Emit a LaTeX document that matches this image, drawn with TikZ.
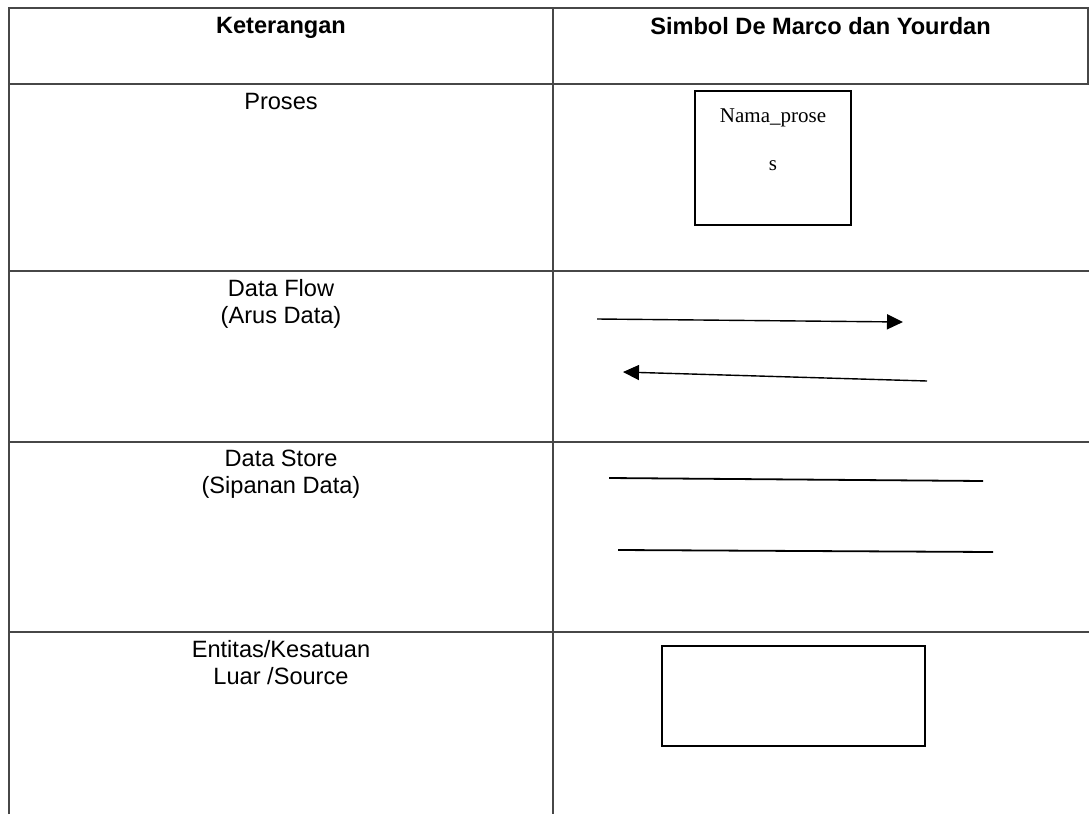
\documentclass[tikz,border=0pt]{standalone}
\usepackage{fontspec}
\setmainfont{Liberation Sans}
\newfontfamily\serifface{Liberation Serif}
\usetikzlibrary{arrows.meta}

\begin{document}
\begin{tikzpicture}[x=1pt,y=-1pt,
  rule/.style={draw=black!72, line width=1.6pt},
  celltext/.style={font=\fontsize{23.6}{27}\selectfont, align=center, anchor=north, inner sep=0pt},
  headtext/.style={celltext, font=\bfseries\fontsize{23.6}{27}\selectfont},
  symbox/.style={draw=black, line width=2.8pt, inner sep=0pt},
  flow/.style={draw=black, line width=1.4pt, -{Triangle[length=16pt,width=15pt]}},
  store/.style={draw=black, line width=1.8pt}]

\useasboundingbox (0,0) rectangle (1089,814);

% table grid
\coordinate (tl) at (9,8);
\coordinate (tr) at (1088,8);
\draw[rule] (9,814) -- (tl) -- (1089,8);
\draw[rule] (tr) -- (1088,84);
\draw[rule] (553,8) -- (553,814);
\draw[rule] (9,84) -- (1089,84);
\draw[rule] (9,271) -- (1089,271);
\draw[rule] (9,442) -- (1089,442);
\draw[rule] (9,632) -- (1089,632);

% header
\node[headtext] (h1) at (281,17) {Keterangan};
\node[headtext] (h2) at (820.5,17) {Simbol De Marco dan Yourdan};

% left column labels
\node[celltext] (l1) at (281,93) {Proses};
\node[celltext] (l2) at (281,279) {Data Flow\\(Arus Data)};
\node[celltext] (l3) at (281,450) {Data Store\\(Sipanan Data)};
\node[celltext] (l4) at (281,640) {Entitas/Kesatuan\\Luar /Source};

% process symbol
\node[symbox, minimum width=156pt, minimum height=134pt] (proc) at (773,158) {};
\node[font=\serifface\fontsize{21}{48}\selectfont, align=center, anchor=north, inner sep=0pt]
  (proctext) at (773,109) {Nama\_prose\\s};

% data flow symbols
\coordinate (f1a) at (597,319);
\coordinate (f1b) at (903,322);
\coordinate (f2a) at (927,381);
\coordinate (f2b) at (623,372);
\draw[flow] (f1a) -- (f1b);
\draw[flow] (f2a) -- (f2b);

% data store symbol
\coordinate (s1a) at (609,478);
\coordinate (s1b) at (983,481);
\coordinate (s2a) at (618,550);
\coordinate (s2b) at (993,552);
\draw[store] (s1a) -- (s1b);
\draw[store] (s2a) -- (s2b);

% external entity symbol
\node[symbox, minimum width=263pt, minimum height=100pt] (ent) at (793.5,696) {};
\end{tikzpicture}
\end{document}
